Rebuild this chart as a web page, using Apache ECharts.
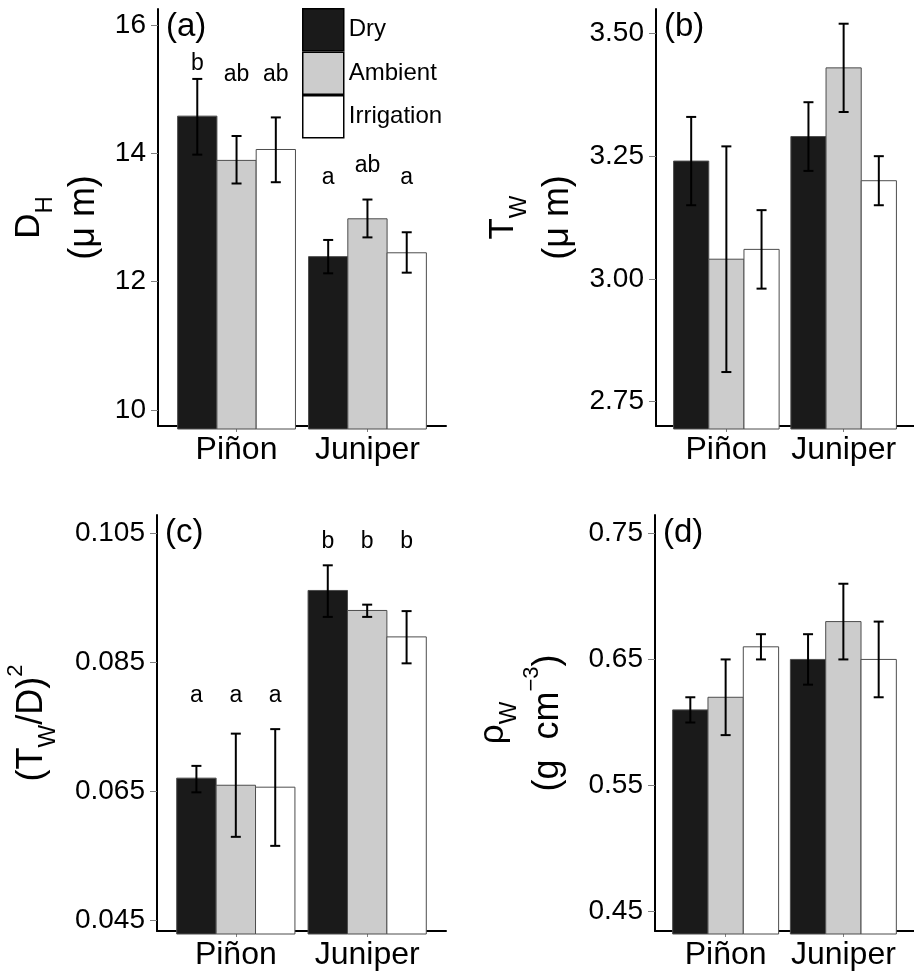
<!DOCTYPE html>
<html>
<head>
    <meta charset="UTF-8">
    <title>Wood anatomy by treatment</title>
    <script src="https://cdn.jsdelivr.net/npm/echarts@6/dist/echarts.min.js"></script>
</head>
<body style="margin: 0; background: #fff;">
<div id="main" style="width: 914px; height: 974px;"></div>
<script>
    // categories and treatments
    var species = ['Piñon', 'Juniper'];
    var treatments = ['Dry', 'Ambient', 'Irrigation'];
    var fills = ['#1a1a1a', '#cccccc', '#ffffff'];

    // (a) hydraulic diameter, rows = treatment, cols = species
    var dhMean = [[14.58, 12.39], [13.89, 12.98], [14.06, 12.45]];
    var dhLow = [[13.98, 12.13], [13.53, 12.69], [13.55, 12.14]];
    var dhHigh = [[15.16, 12.65], [14.27, 13.28], [14.56, 12.77]];
    var dhLetters = [['b', 'a'], ['ab', 'ab'], ['ab', 'a']];
    var dhLetterY = [[15.40, 13.62], [15.22, 13.81], [15.22, 13.62]];

    // (b) wall thickness
    var twMean = [[3.24, 3.29], [3.04, 3.43], [3.06, 3.20]];
    var twLow = [[3.15, 3.22], [2.81, 3.34], [2.98, 3.15]];
    var twHigh = [[3.33, 3.36], [3.27, 3.52], [3.14, 3.25]];

    // (c) thickness-to-span ratio
    var tdMean = [[0.0670, 0.0961], [0.0659, 0.0930], [0.0656, 0.0889]];
    var tdLow = [[0.0648, 0.0920], [0.0579, 0.0920], [0.0565, 0.0848]];
    var tdHigh = [[0.0689, 0.1000], [0.0739, 0.0939], [0.0746, 0.0929]];
    var tdLetters = [['a', 'b'], ['a', 'b'], ['a', 'b']];
    var tdLetterY = [[0.0798, 0.1036], [0.0798, 0.1036], [0.0798, 0.1036]];

    // (d) wood density
    var rhoMean = [[0.61, 0.65], [0.62, 0.68], [0.66, 0.65]];
    var rhoLow = [[0.60, 0.63], [0.59, 0.65], [0.65, 0.62]];
    var rhoHigh = [[0.62, 0.67], [0.65, 0.71], [0.67, 0.68]];

    // tick labels
    var dhTicks = [10, 12, 14, 16];
    var twTicks = [2.75, 3.00, 3.25, 3.50];
    var tdTicks = [0.045, 0.065, 0.085, 0.105];
    var rhoTicks = [0.45, 0.55, 0.65, 0.75];

    var FONT = 'Liberation Sans, Arial, Helvetica, sans-serif';
    var dodge = [-0.3, 0, 0.3];
    var halfW = 0.15;

    var panels = [
        {tag: '(a)', grid: {left: 158, top: 9, width: 288, height: 417}, min: 9.75, max: 16.25,
            ticks: dhTicks, digits: 0, mean: dhMean, low: dhLow, high: dhHigh,
            letters: dhLetters, letterY: dhLetterY, nameGap: 46,
            name: '{d|D}{sub|H}\n{p|(μ m)}'},
        {tag: '(b)', grid: {left: 656, top: 9, width: 258, height: 417}, min: 2.70, max: 3.55,
            ticks: twTicks, digits: 2, mean: twMean, low: twLow, high: twHigh, nameGap: 70,
            name: '{d|T}{sub|W}\n{p|(μ m)}'},
        {tag: '(c)', grid: {left: 157, top: 515, width: 289, height: 416}, min: 0.0433, max: 0.1078,
            ticks: tdTicks, digits: 3, mean: tdMean, low: tdLow, high: tdHigh,
            letters: tdLetters, letterY: tdLetterY, nameGap: 97,
            name: '{p|(T}{sub|W}{p|/D)}{sup|2}'},
        {tag: '(d)', grid: {left: 655, top: 515, width: 259, height: 416}, min: 0.4347, max: 0.7645,
            ticks: rhoTicks, digits: 2, mean: rhoMean, low: rhoLow, high: rhoHigh, nameGap: 79,
            name: '{d|ρ}{sub|W}\n{p|(g  cm}{sup|−3}{p|)}'}
    ];

    var nameRich = {
        d: {fontSize: 35, lineHeight: 55, fontFamily: FONT, color: '#000'},
        sub: {fontSize: 24, lineHeight: 35, verticalAlign: 'bottom', fontFamily: FONT, color: '#000'},
        sup: {fontSize: 22, lineHeight: 30, verticalAlign: 'top', fontFamily: FONT, color: '#000'},
        p: {fontSize: 36, lineHeight: 55, fontFamily: FONT, color: '#000'}
    };

    function barRenderer(t, panel) {
        return function (params, api) {
            var x = api.value(0) + dodge[t];
            var tl = api.coord([x - halfW, api.value(1)]);
            var br = api.coord([x + halfW, panel.min]);
            var lo = api.coord([x, api.value(2)]);
            var hi = api.coord([x, api.value(3)]);
            var err = {stroke: '#000', lineWidth: 2};
            return {
                type: 'group',
                children: [
                    {type: 'rect', shape: {x: tl[0], y: tl[1], width: br[0] - tl[0], height: br[1] - tl[1] + 3},
                        style: {fill: fills[t], stroke: '#4d4d4d', lineWidth: 1}},
                    {type: 'line', shape: {x1: lo[0], y1: lo[1], x2: hi[0], y2: hi[1]}, style: err},
                    {type: 'line', shape: {x1: hi[0] - 5, y1: hi[1], x2: hi[0] + 5, y2: hi[1]}, style: err},
                    {type: 'line', shape: {x1: lo[0] - 5, y1: lo[1], x2: lo[0] + 5, y2: lo[1]}, style: err}
                ]
            };
        };
    }

    function letterRenderer(params, api) {
        var p = api.coord([api.value(0), api.value(1)]);
        return {
            type: 'text', x: p[0], y: p[1],
            style: {text: api.value(2), fontSize: 23, fontFamily: FONT, fill: '#000',
                align: 'center', verticalAlign: 'middle'}
        };
    }

    var grids = [], xAxes = [], yAxes = [], series = [], titles = [];
    panels.forEach(function (panel, i) {
        grids.push(panel.grid);
        titles.push({
            text: panel.tag, left: panel.grid.left + 8, top: panel.grid.top + 1, padding: 0,
            textStyle: {fontSize: 33, fontWeight: 'normal', fontFamily: FONT, color: '#000'}
        });
        xAxes.push({
            type: 'value', gridIndex: i, min: 0.4, max: 2.6,
            splitLine: {show: false},
            axisLine: {onZero: false, lineStyle: {color: '#000', width: 2}},
            axisTick: {customValues: [1, 2], length: 6, lineStyle: {color: '#7f7f7f', width: 1}},
            axisLabel: {
                customValues: [1, 2], margin: 8, fontSize: 32, color: '#000', fontFamily: FONT,
                formatter: function (v) { return species[Math.round(v) - 1]; }
            }
        });
        yAxes.push({
            type: 'value', gridIndex: i, min: panel.min, max: panel.max,
            splitLine: {show: false},
            axisLine: {show: true, onZero: false, lineStyle: {color: '#000', width: 2}},
            axisTick: {customValues: panel.ticks, length: 7, lineStyle: {color: '#7f7f7f', width: 1}},
            axisLabel: {
                customValues: panel.ticks, margin: 12, fontSize: 28, color: '#000', fontFamily: FONT,
                formatter: function (v) { return v.toFixed(panel.digits); }
            },
            name: panel.name, nameLocation: 'middle', nameRotate: 90, nameGap: panel.nameGap,
            nameTextStyle: {fontFamily: FONT, color: '#000', rich: nameRich}
        });
        treatments.forEach(function (tr, t) {
            series.push({
                type: 'custom', name: tr, xAxisIndex: i, yAxisIndex: i,
                itemStyle: {color: fills[t], borderColor: '#000'},
                renderItem: barRenderer(t, panel),
                encode: {x: 0, y: 1},
                data: species.map(function (s, j) {
                    return [j + 1, panel.mean[t][j], panel.low[t][j], panel.high[t][j]];
                })
            });
        });
        if (panel.letters) {
            var pts = [];
            treatments.forEach(function (tr, t) {
                species.forEach(function (s, j) {
                    pts.push([j + 1 + dodge[t], panel.letterY[t][j], panel.letters[t][j]]);
                });
            });
            series.push({
                type: 'custom', name: 'letters' + i, xAxisIndex: i, yAxisIndex: i,
                renderItem: letterRenderer, encode: {x: 0, y: 1}, data: pts, z: 5
            });
        }
    });

    var chart = echarts.init(document.getElementById('main'));
    chart.setOption({
        animation: false,
        backgroundColor: '#fff',
        title: titles,
        legend: {
            orient: 'vertical', left: 302, top: 8, padding: 0, itemGap: 0,
            itemWidth: 41, itemHeight: 42, selectedMode: false,
            textStyle: {fontSize: 24, fontFamily: FONT, color: '#000'},
            data: treatments.map(function (tr, t) {
                return {name: tr, icon: 'rect',
                    itemStyle: {color: fills[t], borderColor: '#000', borderWidth: 1.5}};
            })
        },
        grid: grids,
        xAxis: xAxes,
        yAxis: yAxes,
        series: series
    });
</script>
</body>
</html>
